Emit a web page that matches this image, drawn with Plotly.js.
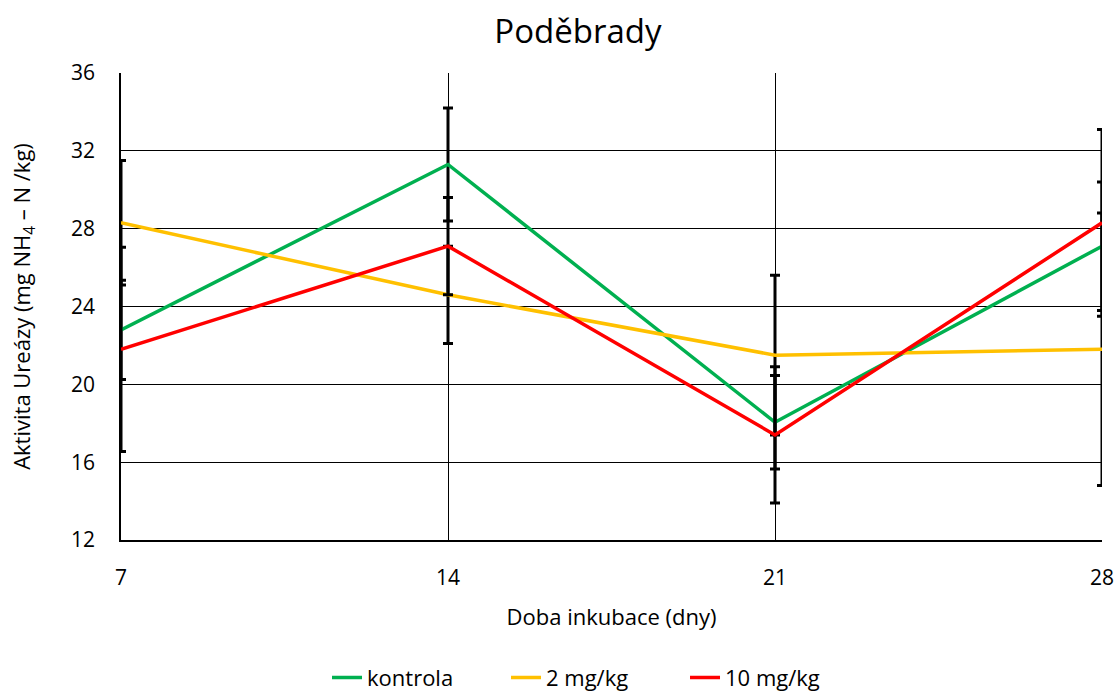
<!DOCTYPE html>
<html>
<head>
<meta charset="utf-8">
<script src="https://cdn.plot.ly/plotly-3.0.1.min.js"></script>
<style>body{margin:0;padding:0;background:#fff;}#chart{width:1120px;height:691px;}</style>
</head>
<body>
<div id="chart"></div>
<script>
const days = [7, 14, 21, 28];
const seriesNames = ["kontrola", "2 mg/kg", "10 mg/kg"];
const kontrola = [22.8, 31.3, 18.05, 27.1];
const kontrolaErr = [2.55, 2.9, 2.4, 3.3];
const mg2 = [28.3, 24.6, 21.5, 21.8];
const mg2Err = [3.2, 2.5, 4.1, 7.0];
const mg10 = [21.8, 27.1, 17.4, 28.3];
const mg10Err = [5.25, 2.5, 3.5, 4.8];
const yTicks = [12, 16, 20, 24, 28, 32, 36];

const colors = ["#00B050", "#FFC000", "#FF0000"];
const vals = [kontrola, mg2, mg10];
const errs = [kontrolaErr, mg2Err, mg10Err];

const FONT = "Open Sans, Liberation Sans, sans-serif";

const traces = vals.map((v, i) => ({
  x: days, y: v, name: seriesNames[i], type: "scatter", mode: "lines",
  line: {color: colors[i], width: 3.5},
  error_y: {type: "data", array: errs[i], visible: true, color: "#000", thickness: 3, width: 5},
  cliponaxis: false
}));

const layout = {
  width: 1120, height: 691,
  margin: {l: 121, r: 18, t: 73, b: 151, autoexpand: false},
  paper_bgcolor: "#fff", plot_bgcolor: "#fff",
  font: {family: FONT, color: "#000", size: 21},
  title: {text: "Poděbrady", font: {size: 33, family: FONT, color: "#000"}, x: 0.516, xanchor: "center", y: 0.955, yanchor: "middle"},
  xaxis: {
    range: [7, 28], tickvals: days, ticktext: days.map(String),
    showgrid: true, gridcolor: "#000", gridwidth: 1,
    showline: true, linecolor: "#000", linewidth: 1.5,
    zeroline: false, ticks: "outside", ticklen: 18, tickcolor: "rgba(0,0,0,0)",
    tickfont: {size: 21}, automargin: false,
    title: {text: "Doba inkubace (dny)", font: {size: 22}, standoff: 20}
  },
  yaxis: {
    range: [12, 36], tickvals: yTicks, ticktext: yTicks.map(String),
    showgrid: true, gridcolor: "#000", gridwidth: 1,
    showline: true, linecolor: "#000", linewidth: 1.5,
    zeroline: false, ticks: "outside", ticklen: 20, tickcolor: "rgba(0,0,0,0)",
    tickfont: {size: 21}, automargin: false,
    title: {text: "Aktivita Ureázy (mg NH<sub>4</sub> – N /kg)", font: {size: 22}, standoff: 34}
  },
  showlegend: true,
  legend: {orientation: "h", x: 0.21, xanchor: "left", y: -0.295, yanchor: "middle",
    font: {size: 22}, entrywidth: 134, entrywidthmode: "pixels", traceorder: "normal"}
};

Plotly.newPlot("chart", traces, layout, {displayModeBar: false, responsive: false});
</script>
</body>
</html>
